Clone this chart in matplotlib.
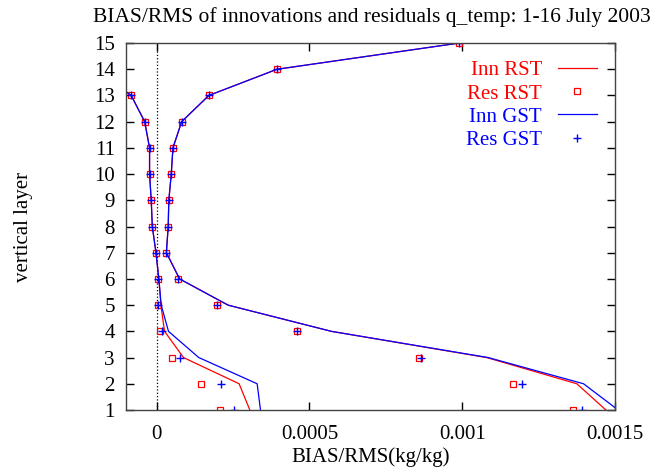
import matplotlib.pyplot as plt
import numpy as np

# vertical layers
levels_bias = np.arange(1, 15)
levels_rms = np.arange(1, 16)

# BIAS (left group of curves), levels 1..14
bias_inn_rst = [0.000305, 0.00027, 0.000088, 0.000026, 0.000014, 0.0000075, -0.000002,
                -0.000014, -0.0000175, -0.000023, -0.000023, -0.000039, -0.000083, -0.0002]
bias_res_rst = [0.000206, 0.000146, 0.00005, 0.000012, 0.0000055, 0.0000033, -0.0000023,
                -0.000014, -0.0000175, -0.000023, -0.000023, -0.000039, -0.000083, -0.0002]
bias_inn_gst = [0.00034, 0.000329, 0.000138, 0.000039, 0.000015, 0.0000075, -0.000002,
                -0.000014, -0.0000175, -0.000023, -0.000023, -0.000039, -0.000083, -0.0002]
bias_res_gst = [0.000252, 0.00021, 0.0000765, 0.000017, 0.0000055, 0.0000033, -0.0000023,
                -0.000014, -0.0000175, -0.000023, -0.000023, -0.000039, -0.000083, -0.0002]

# RMS (right group of curves), levels 1..15
rms_inn_rst = [0.00147, 0.001375, 0.00108, 0.000572, 0.000234, 0.0000753, 0.000032, 0.000038,
               0.00004, 0.000048, 0.0000535, 0.000082, 0.000171, 0.000394, 0.00099]
rms_res_rst = [0.001364, 0.001165, 0.000857, 0.00046, 0.000198, 0.00007, 0.000032, 0.000038,
               0.00004, 0.000048, 0.0000535, 0.000082, 0.000171, 0.000394, 0.00099]
rms_inn_gst = [0.00151, 0.001397, 0.001085, 0.000572, 0.000234, 0.0000753, 0.000032, 0.000038,
               0.00004, 0.000048, 0.0000535, 0.000082, 0.000171, 0.000394, 0.00099]
rms_res_gst = [0.001393, 0.001195, 0.000865, 0.00046, 0.000198, 0.00007, 0.000032, 0.000038,
               0.00004, 0.000048, 0.0000535, 0.000082, 0.000171, 0.000394, 0.00099]

x_ticks = [0, 0.0005, 0.001, 0.0015]
x_tick_labels = ['0', '0.0005', '0.001', '0.0015']

plt.rcParams['font.family'] = ['Liberation Serif', 'DejaVu Serif']

fig = plt.figure(figsize=(6.54, 4.68), dpi=100)
ax = fig.add_axes([0.1927, 0.124, 0.7477, 0.784])

# zero line
ax.axvline(0, color='black', linestyle=':', linewidth=0.9)

red = '#ff0000'
blue = '#0000ff'

# Inn RST
ax.plot(bias_inn_rst, levels_bias, color=red, linewidth=0.9, label='Inn RST')
ax.plot(rms_inn_rst, levels_rms, color=red, linewidth=0.9)
# Res RST
ax.plot(bias_res_rst, levels_bias, linestyle='none', marker='s', markersize=5,
        markerfacecolor='none', markeredgecolor=red, markeredgewidth=0.9, label='Res RST')
ax.plot(rms_res_rst, levels_rms, linestyle='none', marker='s', markersize=5,
        markerfacecolor='none', markeredgecolor=red, markeredgewidth=0.9)
# Inn GST
ax.plot(bias_inn_gst, levels_bias, color=blue, linewidth=0.9, label='Inn GST')
ax.plot(rms_inn_gst, levels_rms, color=blue, linewidth=0.9)
# Res GST
ax.plot(bias_res_gst, levels_bias, linestyle='none', marker='+', markersize=6,
        color=blue, markeredgewidth=1.0, label='Res GST')
ax.plot(rms_res_gst, levels_rms, linestyle='none', marker='+', markersize=6,
        color=blue, markeredgewidth=1.0)

ax.set_xlim(-0.0001, 0.0015)
ax.set_ylim(1, 15)
ax.set_xticks(x_ticks)
ax.set_xticklabels(x_tick_labels)
ax.set_yticks(levels_rms)

ax.tick_params(direction='in', length=6, width=1, labelsize=15,
               top=True, right=True)
ax.tick_params(axis='x', pad=11)
ax.tick_params(axis='y', pad=8)
for side in ax.spines.values():
    side.set_linewidth(1.0)
    side.set_color('#444444')

ax.set_xlabel('BIAS/RMS(kg/kg)', fontsize=15)
ax.xaxis.set_label_coords(0.5, -0.103)
ax.set_ylabel('vertical layer', fontsize=15)
ax.yaxis.set_label_coords(-0.190, 0.5)
fig.text(0.569, 0.963, 'BIAS/RMS of innovations and residuals q_temp: 1-16 July 2003',
         ha='center', va='center', fontsize=15.5)

leg = ax.legend(loc='upper right', bbox_to_anchor=(0.913, 0.870),
                bbox_transform=fig.transFigure, borderaxespad=0, borderpad=0,
                frameon=False, markerfirst=False, fontsize=15, handlelength=1.9,
                labelspacing=0.17, handletextpad=0.75,
                labelcolor=[red, red, blue, blue])
for t in leg.get_texts():
    t.set_ha('right')

fig.savefig('out.png', dpi=100)
